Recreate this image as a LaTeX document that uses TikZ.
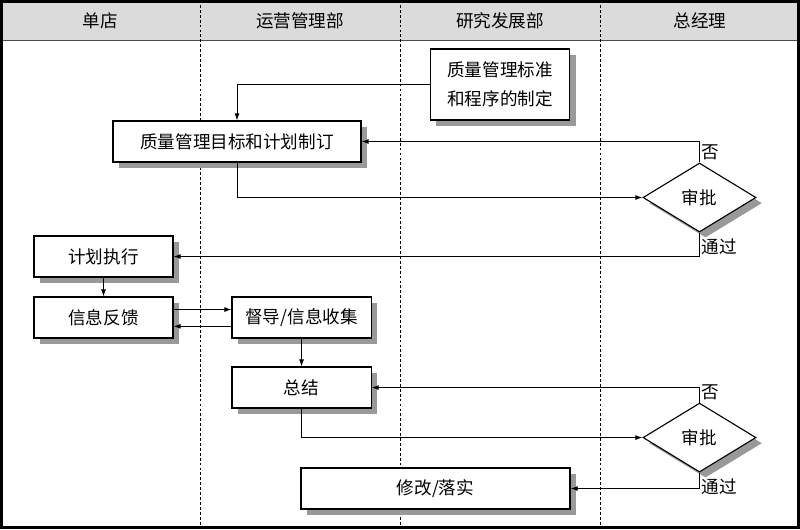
\documentclass[tikz,border=0pt]{standalone}
\usepackage{fontspec}
\setmainfont{Noto Sans CJK SC}
\usetikzlibrary{arrows.meta, positioning, shapes.geometric, shadows}

\begin{document}
\begin{tikzpicture}[x=0.025cm,y=-0.025cm,node distance=2cm,on grid,>={Latex[length=5pt,width=3.5pt]},
      every node/.style={font=\fontsize{12.5}{14}\selectfont},
      task/.style={draw,thick,fill=white,minimum height=1.025cm,minimum width=3.475cm,align=center,
        drop shadow={shadow xshift=0.15cm,shadow yshift=-0.14cm,fill=black!40,opacity=1}},
      check/.style={diamond,draw,thick,fill=white,minimum width=2.825cm,minimum height=1.725cm,inner sep=0pt,
        drop shadow={shadow xshift=0.15cm,shadow yshift=-0.14cm,fill=black!40,opacity=1}},
      lane/.style={dash pattern=on 2pt off 1.5pt,thin},
      flow/.style={->,semithick},
      tag/.style={inner sep=1.5pt}]
      \useasboundingbox (0,0) rectangle (800,529);
      % header and swimlanes
      \fill[black!14] (0,0) rectangle (800,40);
      \draw[black!70] (0,40) -- (800,40);
      \foreach \x in {200,400,600}
        \draw[lane] (\x,0) -- (\x,529);
      \foreach \x/\t [count=\i] in {100/单店,300/运营管理部,500/研究发展部,700/总经理}
        \node (h_\i) at (\x,21) {\t};
      \draw[line width=2pt] (1.5,1.5) rectangle (798.5,527.5);
      % steps
      \node[task,minimum width=3.475cm,minimum height=1.775cm,font=\fontsize{12.5}{20.5}\selectfont]
        (std) at (500,84.5) {质量管理标准\\和程序的制定};
      \node[task,minimum width=6.2cm]  (goal) at (237,141.5) {质量管理目标和计划制订};
      \node[check]  (chk_1) at (699.5,197.5) {审批};
      \node[task]   (plan) at (103.5,256.5) {计划执行};
      \node[task]   (fb) [below=1.525cm of plan] {信息反馈};
      \node[task]   (sup) [right=4.95cm of fb] {督导/信息收集};
      \node[task]   (sum) [below=1.75cm of sup] {总结};
      \node[check]  (chk_2) [below=6cm of chk_1] {审批};
      \node[task,minimum width=6.725cm] (fix) at (435.5,488.5) {修改/落实};
      % labels
      \node[tag,anchor=south west] (no_1) at (chk_1.north) {否};
      \node[tag,anchor=north west,yshift=-1mm] (ok_1) at (chk_1.south) {通过};
      \node[tag,anchor=south west] (no_2) at (chk_2.north) {否};
      \node[tag,anchor=north west,yshift=-1mm] (ok_2) at (chk_2.south) {通过};
      % connectors
      \draw[flow] (std.west) -| (goal.north);
      \draw[flow] (goal.south) |- (chk_1.west);
      \draw[flow] (chk_1.north) |- (goal.east);
      \draw[flow] (chk_1.south) |- (plan.east);
      \path[flow] (plan) edge (fb)
        (sup) edge (sum);
      \draw[flow] ([yshift=2mm]fb.east) -- ([yshift=2mm]sup.west);
      \draw[flow] ([yshift=-2.2mm]sup.west) -- ([yshift=-2.2mm]fb.east);
      \draw[flow] (chk_2.north) |- (sum.east);
      \draw[flow] (sum.south) |- (chk_2.west);
      \draw[flow] (chk_2.south) |- (fix.east);
    \end{tikzpicture}
\end{document}
